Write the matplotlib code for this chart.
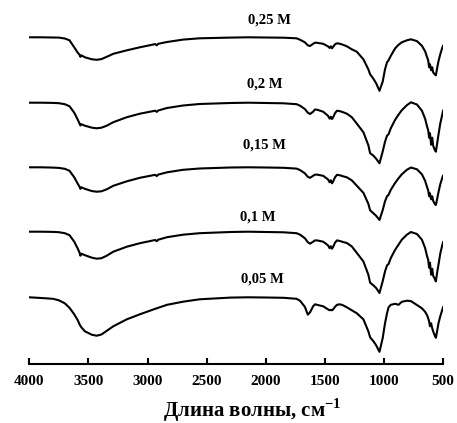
import matplotlib
matplotlib.use("Agg")
import matplotlib.pyplot as plt

# Wavenumber grid (cm^-1) shared by all spectra
wavenumber = [
    4000, 3900, 3800, 3750, 3700, 3660, 3620, 3590, 3575, 3568,
    3560, 3530, 3470, 3430, 3390, 3345, 3290, 3175, 3065, 2935,
    2922, 2910, 2835, 2700, 2560, 2300, 2150, 2000, 1850, 1740,
    1710, 1670, 1645, 1626, 1600, 1584, 1567, 1515, 1475, 1460,
    1450, 1440, 1430, 1415, 1398, 1373, 1347, 1315, 1273, 1230,
    1175, 1133, 1118, 1090, 1067, 1039, 1012, 992, 975, 962,
    943, 906, 878, 850, 807, 773, 722, 680, 653, 636,
    627, 619, 612, 602, 593, 585, 572, 562, 550, 540,
    525, 509, 500,
]

# Transmittance (arb. units) of each sample
t_005 = [
    100, 99.3, 98.5, 97, 94, 89.5, 83, 77, 73, 71.5,
    70, 66, 62.5, 61.6, 62.8, 66.5, 71, 78, 83, 88.5,
    89, 89.5, 92.5, 95.6, 98, 99.7, 100, 99.8, 99.5, 98.5,
    96.5, 90.5, 82.7, 85, 91, 93, 92.5, 91, 88, 87,
    87.5, 87, 88, 90.5, 92.5, 93, 92, 90, 87, 84,
    78, 66, 60, 56, 52, 45.5, 59, 74, 84, 90,
    92.5, 93.5, 92.5, 95.5, 96.6, 96.2, 92.3, 89, 85.5, 82,
    79, 76, 71, 74, 69, 66, 62, 59.5, 67, 74,
    81, 87, 90.5,
]
t_010 = [
    100, 100, 99.8, 99.5, 98.5, 96.5, 90, 83, 79, 76,
    78, 76.5, 74, 73, 73.5, 76, 80, 85, 88.5, 91.7,
    90.5, 92, 94.5, 97, 98.5, 99.7, 100, 99.7, 99.4, 98.5,
    97, 93.5, 89.5, 88, 90, 91.3, 91.3, 90, 86.5, 83.5,
    85.5, 83, 85, 89, 91.3, 90.7, 89.7, 88.7, 85.3, 78.7,
    70.3, 57, 49, 46.3, 43.7, 38.7, 50.3, 60.3, 66.3, 67.7,
    73.7, 82, 87, 92, 97, 99.7, 97.7, 92, 83.7, 75.3,
    72, 64, 69, 57, 63, 56, 53, 50.3, 60, 67,
    78, 86, 90,
]
t_015 = [
    100, 100, 99.7, 99.4, 98.5, 96.5, 90, 83.5, 80.5, 78.5,
    80, 78.5, 76.2, 75.6, 76, 78, 81.5, 86, 89.5, 92.5,
    91.2, 92.7, 95, 97.5, 98.8, 99.8, 100, 99.8, 99.5, 98.7,
    97.2, 94, 90.5, 89.5, 91.5, 92.7, 92.7, 91.5, 88, 85,
    87, 84, 86, 90, 92.5, 92, 91, 90, 87, 81.5,
    74.5, 63.5, 57, 54, 51.5, 47.3, 57, 66, 71, 72.5,
    77.5, 84.5, 89, 93, 97.5, 99.8, 98, 93, 86.5, 80,
    77, 71, 74, 68, 71, 66.5, 63.5, 62.3, 69, 75,
    83, 89, 92,
]
t_020 = [
    100, 100, 99.8, 99.5, 98.5, 96.5, 90, 83, 79, 77.2,
    78.5, 77, 75, 74.4, 75, 77, 80.5, 85.5, 89, 92,
    90.8, 92.2, 94.7, 97.2, 98.7, 99.7, 100, 99.7, 99.4, 98.5,
    97, 93.7, 90, 88.7, 91, 93.2, 93, 91, 87, 84,
    86, 83.7, 85.5, 89.5, 92, 91.5, 90.5, 89, 85.5, 79,
    70.5, 57.5, 49.5, 47, 44, 39.4, 51, 61, 67, 68.5,
    74.5, 83, 88, 92.5, 97.5, 100.4, 98.2, 92, 84, 76,
    72.5, 65, 69.5, 58, 65, 57, 53, 51, 60, 68,
    79, 87.5, 92.5,
]
t_025 = [
    100, 100, 99.8, 99.7, 98.8, 97, 90, 84.5, 82.5, 80.5,
    82, 80, 78, 77.5, 78.2, 80.5, 83.5, 87, 90, 93.2,
    92, 93.5, 95.3, 97.7, 99, 99.7, 100, 99.8, 99.6, 99,
    97.5, 95, 92, 91.3, 93.5, 94.6, 94.5, 93.5, 91, 89.3,
    91, 89, 90.5, 93, 94, 93.5, 92.5, 91, 88, 85.5,
    78, 68, 63, 58.5, 54, 46.5, 55.5, 68, 75, 77,
    81.5, 89, 92.5, 95, 97, 98, 96.2, 91.5, 86, 80,
    77, 70, 73, 67, 70, 65, 63, 62, 70, 76,
    83, 89, 92,
]

concentrations = ["0,05 М", "0,1 М", "0,15 М", "0,2 М", "0,25 М"]
spectra = [t_005, t_010, t_015, t_020, t_025]
xticks = [4000, 3500, 3000, 2500, 2000, 1500, 1000, 500]

# vertical stacking of the spectra and placement of their captions
stack_offsets = [-33.8, 31.8, 96.2, 160.8, 226.2]
caption_x = [2028, 2070, 2011, 2011, 1969]
caption_y = [81, 142.5, 214.5, 276, 339.5]

plt.rcParams["font.family"] = ["Liberation Serif", "DejaVu Serif"]
plt.rcParams["font.weight"] = "bold"
plt.rcParams["mathtext.fontset"] = "custom"
plt.rcParams["mathtext.rm"] = "Liberation Serif:bold"
plt.rcParams["mathtext.bf"] = "Liberation Serif:bold"

W, H = 457, 423
fig = plt.figure(figsize=(W / 100, H / 100), dpi=100)
ax = fig.add_axes([29.3 / W, (H - 363.5) / H, 413.9 / W, 358.5 / H])

for t, off in zip(spectra, stack_offsets):
    ax.plot(wavenumber, [v + off for v in t], color="black", lw=1.5,
            solid_joinstyle="round", solid_capstyle="round")

for label, x, y in zip(concentrations, caption_x, caption_y):
    ax.text(x, y, label, ha="center", va="baseline", fontsize=10.5,
            fontweight="bold")

ax.set_xlim(4000, 500)
ax.set_ylim(0, 358.5)
ax.set_xticks(xticks)
ax.set_xticklabels([str(v) for v in xticks])
ax.set_yticks([])
for side in ("left", "right", "top"):
    ax.spines[side].set_visible(False)
ax.spines["bottom"].set_linewidth(1.5)
ax.tick_params(axis="x", direction="in", length=4, width=1.5, pad=8.5,
               labelsize=11)
ax.patch.set_visible(False)

fig.text(252 / W, 1 - 417 / H, "Длина волны, см$^{\\mathbf{-1}}$",
         ha="center", va="baseline", fontsize=15, fontweight="bold")

fig.savefig("out.png", dpi=100)
